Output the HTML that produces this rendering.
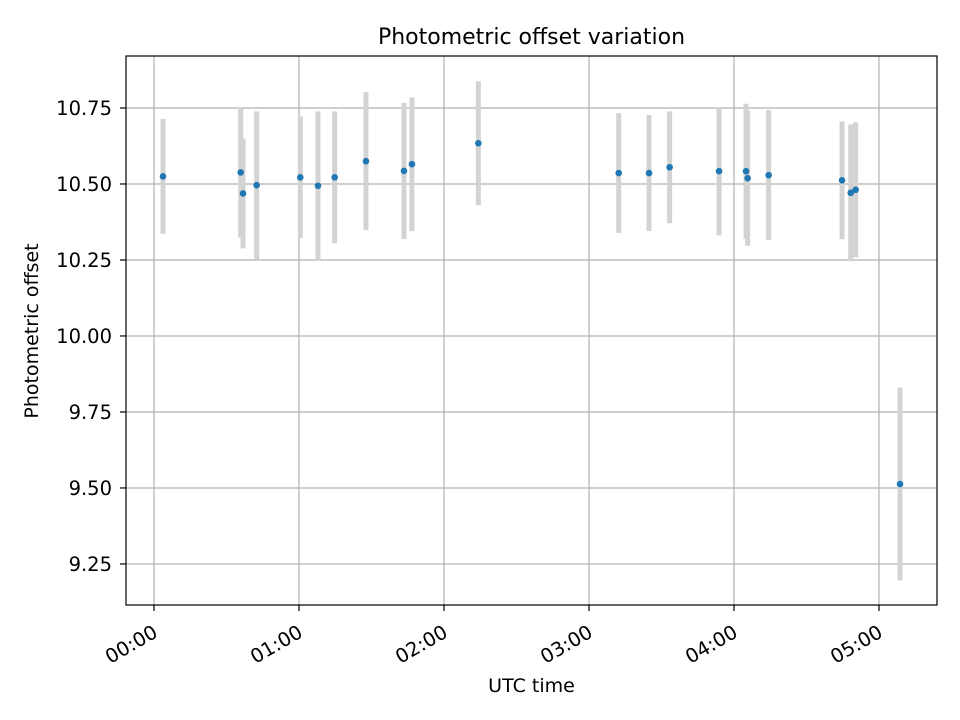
<!DOCTYPE html>
<html><head><meta charset="utf-8"><style>
body{margin:0;background:#fff}
svg{display:block;font-family:"DejaVu Sans","Liberation Sans",sans-serif}
</style></head><body>
<svg id="chart" width="960" height="720">
<rect x="0" y="0" width="960" height="720" fill="#fff"/>
<g id="grid"></g>
<g id="errs"></g>
<g id="pts"></g>
<rect x="126" y="56" width="811" height="549" fill="none" stroke="#000" stroke-width="1.2"/>
<g id="ticks"></g>
<text x="531.5" y="44" text-anchor="middle" font-size="22">Photometric offset variation</text>
<text x="531.5" y="692" text-anchor="middle" font-size="19">UTC time</text>
<text transform="translate(38,331) rotate(-90)" text-anchor="middle" font-size="19">Photometric offset</text>
</svg>
<script>
const hours=[0.062,0.598,0.614,0.708,1.009,1.131,1.246,1.462,1.724,1.779,2.237,3.205,3.414,3.556,3.897,4.083,4.094,4.239,4.745,4.805,4.839,5.145];
const offsets=[10.525,10.538,10.469,10.496,10.522,10.494,10.522,10.575,10.543,10.565,10.634,10.536,10.536,10.555,10.542,10.542,10.519,10.529,10.512,10.471,10.481,9.513];
const errors=[0.189,0.215,0.181,0.243,0.200,0.245,0.217,0.227,0.224,0.220,0.204,0.197,0.191,0.184,0.211,0.222,0.222,0.214,0.194,0.225,0.222,0.317];
const yTicks=[9.25,9.5,9.75,10.0,10.25,10.5,10.75];
const yTickLabels=["9.25","9.50","9.75","10.00","10.25","10.50","10.75"];
const xTicks=[0,1,2,3,4,5];
const xTickLabels=["00:00","01:00","02:00","03:00","04:00","05:00"];
const NS="http://www.w3.org/2000/svg";
const L=126,R=937,T=56,B=605;
const xMin=-0.193,xMax=5.4,yMin=9.115,yMax=10.921;
const X=h=>L+(h-xMin)/(xMax-xMin)*(R-L);
const Y=v=>B-(v-yMin)/(yMax-yMin)*(B-T);
function mk(tag,attrs,parent){const e=document.createElementNS(NS,tag);for(const k in attrs)e.setAttribute(k,attrs[k]);parent.appendChild(e);return e;}
const grid=document.getElementById('grid'),ticks=document.getElementById('ticks');
yTicks.forEach((v,i)=>{const y=Y(v);
 const g=mk('line',{x1:L,x2:R,y1:y,y2:y,stroke:'#b0b0b0','stroke-width':1.2},grid);
 
 
 const t=mk('line',{x1:L-6,x2:L,y1:y,y2:y,stroke:'#000','stroke-width':1.2},ticks);
 
 
 const tx=mk('text',{x:L-14,y:y+7,'text-anchor':'end','font-size':19.5},ticks);
 tx.textContent=yTickLabels[i];
 
 
});
xTicks.forEach((h,i)=>{const x=X(h);
 const g=mk('line',{x1:x,x2:x,y1:T,y2:B,stroke:'#b0b0b0','stroke-width':1.2},grid);
 
 
 const t=mk('line',{x1:x,x2:x,y1:B,y2:B+6,stroke:'#000','stroke-width':1.2},ticks);
 
 
 const tx=mk('text',{transform:`translate(${x+5},${B+31}) rotate(-30)`,'text-anchor':'end','font-size':19.5},ticks);
 tx.textContent=xTickLabels[i];
 
 
});
const errs=document.getElementById('errs'),pts=document.getElementById('pts');
hours.forEach((h,i)=>{const x=X(h);
 const e=mk('line',{x1:x,x2:x,y1:Y(offsets[i]+errors[i]),y2:Y(offsets[i]-errors[i]),stroke:'#d3d3d3','stroke-width':5},errs);
 
 
 const c=mk('circle',{cx:x,cy:Y(offsets[i]),r:3.3,fill:'#1f77b4'},pts);
 
 
});
</script>
</body></html>
